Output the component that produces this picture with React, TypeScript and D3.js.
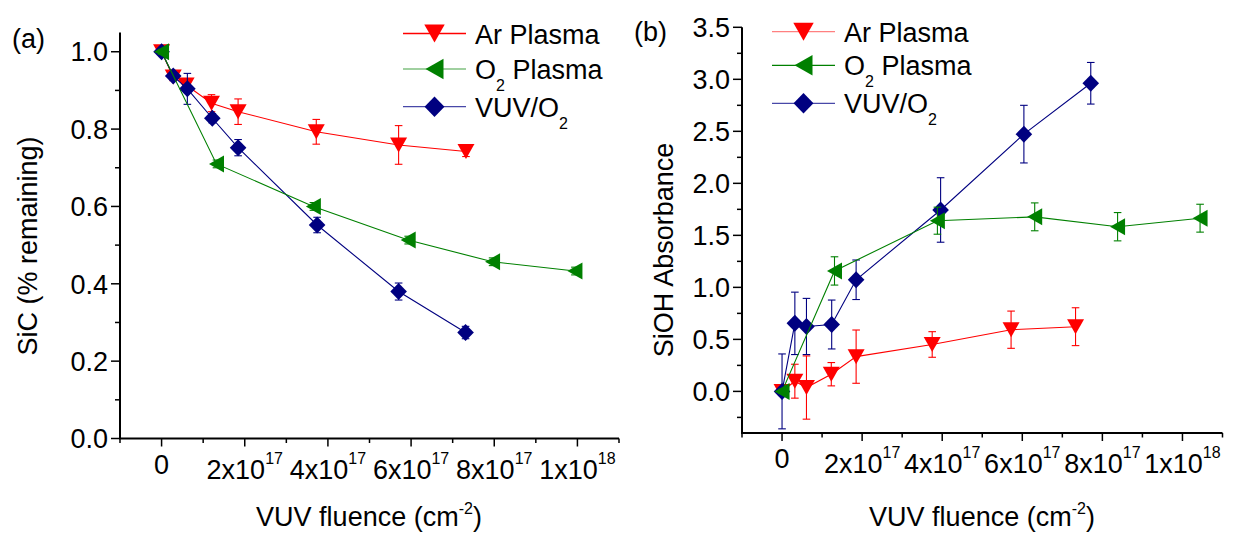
import React from 'react';
import * as d3 from 'd3';

// ---------- shared axis data (fluence in units of 1e17 cm^-2) ----------
const xMajorTicks = [0, 2, 4, 6, 8, 10];
const xMinorTicks = [-1, 1, 3, 5, 7, 9, 11];
const xTickBase = ['0', '2x10', '4x10', '6x10', '8x10', '1x10'];
const xTickExp = ['', '17', '17', '17', '17', '18'];

// ---------- panel (a): SiC remaining ----------
const arFluenceA = [0, 0.28, 0.59, 1.2, 1.84, 3.72, 5.7, 7.32];
const arSiCA = [1.0, 0.935, 0.914, 0.867, 0.845, 0.793, 0.759, 0.742];
const arErrA = [0.006, 0.01, 0.012, 0.022, 0.033, 0.032, 0.05, 0.013];

const o2FluenceA = [0, 1.32, 3.65, 5.93, 7.96, 9.94];
const o2SiCA = [1.0, 0.71, 0.6, 0.513, 0.457, 0.433];
const o2ErrA = [0.006, 0.01, 0.01, 0.01, 0.01, 0.01];

const vuvFluenceA = [0, 0.28, 0.62, 1.22, 1.84, 3.74, 5.7, 7.31];
const vuvSiCA = [1.0, 0.937, 0.904, 0.828, 0.752, 0.552, 0.38, 0.274];
const vuvErrA = [0.006, 0.01, 0.04, 0.012, 0.021, 0.02, 0.022, 0.016];

const yMajorA = [0, 0.2, 0.4, 0.6, 0.8, 1.0];
const yMinorA = [0.1, 0.3, 0.5, 0.7, 0.9];

// ---------- panel (b): SiOH absorbance ----------
const arFluenceB = [0, 0.32, 0.61, 1.23, 1.85, 3.75, 5.72, 7.33];
const arSiOHB = [0, 0.098, 0.037, 0.165, 0.334, 0.451, 0.593, 0.622];
const arErrB = [0.04, 0.163, 0.304, 0.112, 0.256, 0.123, 0.179, 0.182];

const o2FluenceB = [0, 1.31, 3.88, 6.31, 8.38, 10.44];
const o2SiOHB = [0, 1.158, 1.641, 1.678, 1.583, 1.665];
const o2ErrB = [0.02, 0.136, 0.13, 0.134, 0.136, 0.134];

const vuvFluenceB = [0, 0.32, 0.61, 1.24, 1.85, 3.96, 6.04, 7.71];
const vuvSiOHB = [0, 0.654, 0.624, 0.643, 1.073, 1.744, 2.473, 2.962];
const vuvErrB = [0.36, 0.3, 0.27, 0.235, 0.19, 0.31, 0.277, 0.2];

const yMajorB = [0, 0.5, 1.0, 1.5, 2.0, 2.5, 3.0, 3.5];
const yMinorB = [-0.25, 0.25, 0.75, 1.25, 1.75, 2.25, 2.75, 3.25];

const FONT = 'Liberation Sans, Arial, Helvetica, sans-serif';
const RED = '#ff0000';
const GREEN = '#008000';
const NAVY = '#000080';

type Marker = 'down' | 'left' | 'diamond';

interface Series {
  name: string[]; // [main, sub, rest]
  x: number[];
  y: number[];
  err: number[];
  color: string;
  marker: Marker;
  legendLine: string;
}

function markerPath(m: Marker): string {
  if (m === 'down') return 'M-8.5,-7.5L8.5,-7.5L0,7.5Z';
  if (m === 'left') return 'M-7.5,0L7.5,-8.5L7.5,8.5Z';
  return 'M0,-8.5L8.3,0L0,8.5L-8.3,0Z';
}

interface PanelProps {
  xRange: [number, number];
  yDomain: [number, number];
  yRange: [number, number];
  yMajor: number[];
  yMinor: number[];
  yFmt: (v: number) => string;
  series: Series[];
  label: string;
  labelPos: [number, number];
  yTitle: string;
  yTitlePos: [number, number];
  legendX: number;
  legendRows: number[];
  xTitleX: number;
}

function Panel(p: PanelProps) {
  const x = d3.scaleLinear().domain([-1, 11]).range(p.xRange);
  const y = d3.scaleLinear().domain(p.yDomain).range(p.yRange);
  const x0 = p.xRange[0];
  const yb = p.yRange[0];
  const line = d3
    .line<[number, number]>()
    .x((d) => x(d[0]))
    .y((d) => y(d[1]));
  const lx1 = p.legendX;
  const lx2 = p.legendX + 63;
  const lmx = p.legendX + 31.5;
  return (
    <g fontFamily={FONT}>
      {/* axes */}
      <line x1={x0} x2={x0} y1={y(p.yDomain[1])} y2={yb} stroke="#000" strokeWidth={2} />
      <line x1={x0 - 1} x2={p.xRange[1]} y1={yb} y2={yb} stroke="#000" strokeWidth={2} />
      {p.yMajor.map((v) => (
        <g key={'ym' + v}>
          <line x1={x0 - 9} x2={x0} y1={y(v)} y2={y(v)} stroke="#000" strokeWidth={1.5} />
          <text x={x0 - 12} y={y(v)} dy="0.36em" textAnchor="end" fontSize={27}>
            {p.yFmt(v)}
          </text>
        </g>
      ))}
      {p.yMinor.map((v) => (
        <line key={'yn' + v} x1={x0 - 5} x2={x0} y1={y(v)} y2={y(v)} stroke="#000" strokeWidth={1.5} />
      ))}
      {xMajorTicks.map((v, i) => (
        <g key={'xm' + v}>
          <line x1={x(v)} x2={x(v)} y1={yb} y2={yb + 8} stroke="#000" strokeWidth={1.5} />
          {xTickExp[i] === '' ? (
            <text x={x(v)} y={yb + 35} textAnchor="middle" fontSize={27}>
              {xTickBase[i]}
            </text>
          ) : (
            <text x={x(v)} y={yb + 40} textAnchor="middle" fontSize={27}>
              {xTickBase[i]}
              <tspan fontSize={16} dy={-15}>
                {xTickExp[i]}
              </tspan>
            </text>
          )}
        </g>
      ))}
      {xMinorTicks.map((v) => (
        <line key={'xn' + v} x1={x(v)} x2={x(v)} y1={yb} y2={yb + 4.5} stroke="#000" strokeWidth={1.5} />
      ))}
      {/* titles */}
      <text x={p.xTitleX} y={526} textAnchor="middle" fontSize={27}>
        VUV fluence (cm
        <tspan fontSize={16} dy={-12}>
          -2
        </tspan>
        <tspan dy={12}>)</tspan>
      </text>
      <text
        transform={`translate(${p.yTitlePos[0]},${p.yTitlePos[1]}) rotate(-90)`}
        textAnchor="middle"
        fontSize={27}
      >
        {p.yTitle}
      </text>
      <text x={p.labelPos[0]} y={p.labelPos[1]} fontSize={27}>
        {p.label}
      </text>
      {/* series */}
      {p.series.map((s, si) => {
        const pts: [number, number][] = s.x.map((xv, i) => [xv, s.y[i]]);
        return (
          <g key={'s' + si}>
            <path d={line(pts) || ''} fill="none" stroke={s.color} strokeWidth={1.1} />
            {pts.map((d, i) => {
              const cx = x(d[0]);
              const t = y(d[1] + s.err[i]);
              const b = y(d[1] - s.err[i]);
              return (
                <g key={'e' + i} stroke={s.color} strokeWidth={1.1}>
                  <line x1={cx} x2={cx} y1={t} y2={b} />
                  <line x1={cx - 3.8} x2={cx + 3.8} y1={t} y2={t} />
                  <line x1={cx - 3.8} x2={cx + 3.8} y1={b} y2={b} />
                </g>
              );
            })}
            {pts.map((d, i) => (
              <path
                key={'m' + i}
                d={markerPath(s.marker)}
                transform={`translate(${x(d[0])},${y(d[1])})`}
                fill={s.color}
              />
            ))}
          </g>
        );
      })}
      {/* legend */}
      {p.series.map((s, si) => {
        const ly = p.legendRows[si];
        return (
          <g key={'l' + si}>
            <line x1={lx1} x2={lx2} y1={ly} y2={ly} stroke={s.legendLine} strokeWidth={1.3} />
            <path
              d={markerPath(s.marker)}
              transform={`translate(${lmx},${ly}) scale(1.2)`}
              fill={s.color}
            />
            <text x={lx2 + 9} y={ly + 10} fontSize={27}>
              {s.name[0]}
              {s.name[1] ? (
                <>
                  <tspan fontSize={16} dy={12}>
                    {s.name[1]}
                  </tspan>
                  <tspan dy={-12}>{s.name[2] || ''}</tspan>
                </>
              ) : null}
            </text>
          </g>
        );
      })}
    </g>
  );
}

export default function App() {
  const seriesA: Series[] = [
    { name: ['Ar Plasma'], x: arFluenceA, y: arSiCA, err: arErrA, color: RED, marker: 'down', legendLine: '#ff0000' },
    { name: ['VUV/O', '2'], x: vuvFluenceA, y: vuvSiCA, err: vuvErrA, color: NAVY, marker: 'diamond', legendLine: '#4848a8' },
    { name: ['O', '2', ' Plasma'], x: o2FluenceA, y: o2SiCA, err: o2ErrA, color: GREEN, marker: 'left', legendLine: '#80c080' },
  ];
  const seriesB: Series[] = [
    { name: ['Ar Plasma'], x: arFluenceB, y: arSiOHB, err: arErrB, color: RED, marker: 'down', legendLine: '#ff8080' },
    { name: ['VUV/O', '2'], x: vuvFluenceB, y: vuvSiOHB, err: vuvErrB, color: NAVY, marker: 'diamond', legendLine: '#4848a8' },
    { name: ['O', '2', ' Plasma'], x: o2FluenceB, y: o2SiOHB, err: o2ErrB, color: GREEN, marker: 'left', legendLine: '#008000' },
  ];
  return (
    <svg
      width={1244}
      height={533}
      style={{ position: 'absolute', left: 0, top: 0, background: '#fff' }}
    >
      <rect width={1244} height={533} fill="#fff" />
      <Panel
        xRange={[120, 619]}
        yDomain={[0, 1.05]}
        yRange={[438.5, 32.4]}
        yMajor={yMajorA}
        yMinor={yMinorA}
        yFmt={d3.format('.1f')}
        series={seriesA}
        label="(a)"
        labelPos={[12, 48]}
        yTitle="SiC (% remaining)"
        yTitlePos={[37, 246]}
        legendX={403}
        legendRows={[33.5, 106.7, 69]}
        xTitleX={369}
      />
      <Panel
        xRange={[742, 1222.5]}
        yDomain={[-0.4, 3.5]}
        yRange={[433, 27.3]}
        yMajor={yMajorB}
        yMinor={yMinorB}
        yFmt={d3.format('.1f')}
        series={seriesB}
        label="(b)"
        labelPos={[634, 41]}
        yTitle="SiOH Absorbance"
        yTitlePos={[672.5, 250]}
        legendX={772}
        legendRows={[31.7, 103.3, 65.3]}
        xTitleX={982}
      />
    </svg>
  );
}
